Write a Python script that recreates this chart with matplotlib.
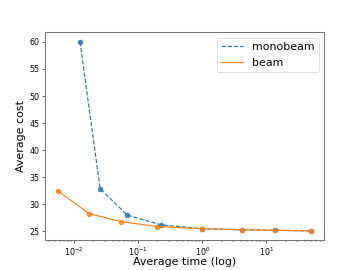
import matplotlib
matplotlib.use('Agg')
import matplotlib.pyplot as plt

mono_time = [0.0124, 0.0255, 0.0676, 0.229, 1.0, 4.2, 13.5, 50.0]
mono_cost = [60.0, 32.9, 28.0, 26.2, 25.5, 25.3, 25.2, 25.1]
beam_time = [0.00556, 0.0171, 0.054, 0.2, 1.0, 4.2, 13.5, 50.0]
beam_cost = [32.5, 28.3, 26.8, 25.9, 25.5, 25.3, 25.2, 25.1]

fig = plt.figure(figsize=(6.4, 4.8), dpi=56.25)
ax = plt.gca()
plt.plot(mono_time, mono_cost, '--', color='C0', label='monobeam')
plt.scatter(mono_time, mono_cost, color='C0', alpha=0.85)
plt.plot(beam_time, beam_cost, '-', color='C1', label='beam')
plt.scatter(beam_time, beam_cost, color='C1', alpha=0.85)
plt.xscale('log')
plt.xlabel('Average time (log)', fontsize=14, labelpad=-1)
plt.ylabel('Average cost', fontsize=14)
plt.legend(fontsize=14)
for s in ax.spines.values():
    s.set_edgecolor('0.45')
    s.set_linewidth(1.3)
plt.savefig('out.png', dpi=56.25)
